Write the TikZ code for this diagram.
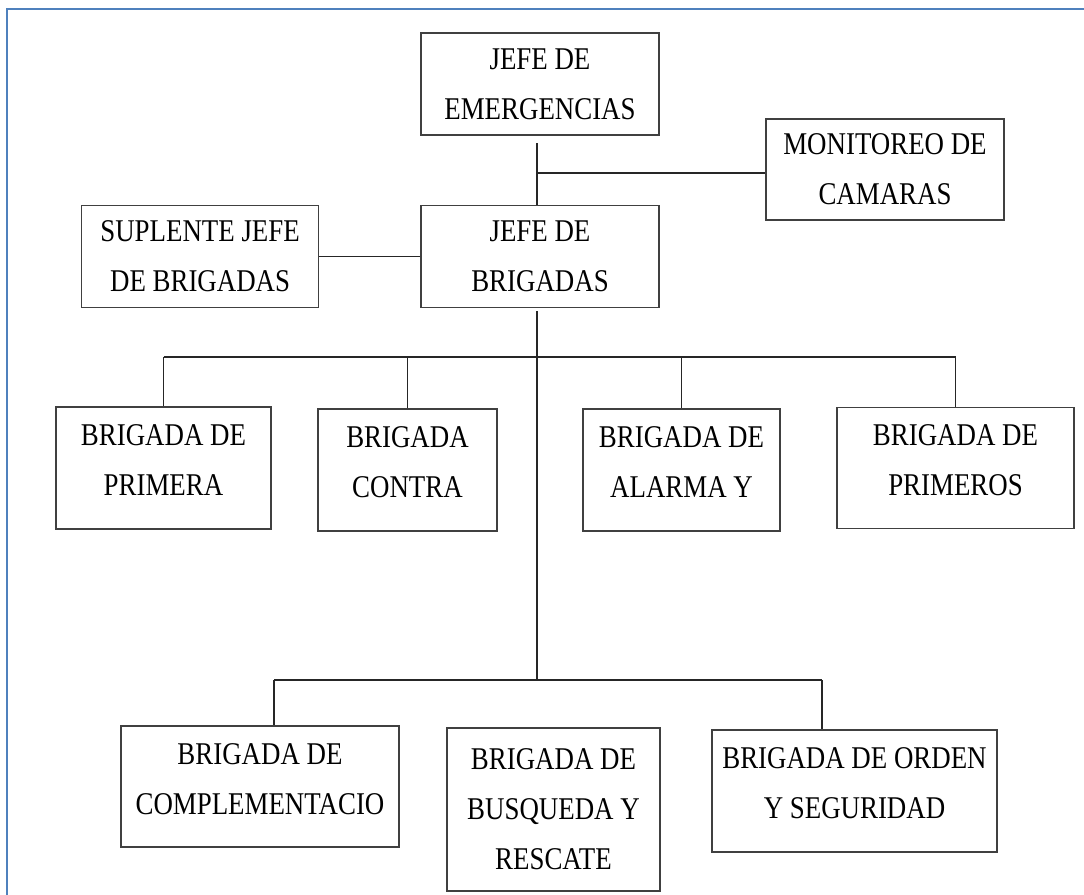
\documentclass[tikz,border=0pt]{standalone}
\usepackage{fontspec}
\setmainfont{Liberation Serif}[FakeStretch=0.85]
\usetikzlibrary{positioning}
\definecolor{framebl}{RGB}{79,129,189}
\tikzset{
  orgbox/.style={
    rectangle, draw=black!75, line width=0.8pt,
    inner sep=0pt, align=center, text=black,
    font=\fontsize{18}{28.5}\selectfont
  },
  lift/.style={text depth=9pt},
  orgline/.style={draw=black!85, line width=0.7pt},
}

\begin{document}
\begin{tikzpicture}
  \useasboundingbox (0,0) rectangle (21.68,-17.90);
  \draw[framebl,line width=1.2pt] (0.14,-17.90) |- (21.68,-0.18);
  % jefes
  \node[orgbox,minimum width=4.76cm,minimum height=2.04cm](je) at (10.80,-1.68){JEFE DE\\EMERGENCIAS};
  \node[orgbox,minimum width=4.76cm,minimum height=2.04cm,
        below=1.38cm of je](jb){JEFE DE\\BRIGADAS};
  \node[orgbox,minimum width=4.74cm,minimum height=2.04cm,
        left=2.02cm of jb](sup){SUPLENTE JEFE\\DE BRIGADAS};
  \node[orgbox,minimum width=4.76cm,minimum height=2.02cm](mon) at (17.70,-3.39){MONITOREO DE\\CAMARAS};
  % brigadas
  \node[orgbox,lift,minimum width=4.30cm,minimum height=2.44cm](b1) at (3.27,-9.36){BRIGADA DE\\PRIMERA};
  \node[orgbox,lift,minimum width=3.58cm,minimum height=2.44cm](b2) at (8.15,-9.40){BRIGADA\\CONTRA};
  \node[orgbox,lift,minimum width=3.94cm,minimum height=2.44cm](b3) at (13.63,-9.40){BRIGADA DE\\ALARMA Y};
  \node[orgbox,lift,minimum width=4.74cm,minimum height=2.42cm](b4) at (19.11,-9.36){BRIGADA DE\\PRIMEROS};
  \node[orgbox,lift,minimum width=5.56cm,minimum height=2.42cm](c1) at (5.20,-15.73){BRIGADA DE\\COMPLEMENTACIO};
  \node[orgbox,minimum width=4.26cm,minimum height=3.26cm](c2) at (11.07,-16.19){BRIGADA DE\\BUSQUEDA Y\\RESCATE};
  \node[orgbox,lift,minimum width=5.70cm,minimum height=2.44cm](c3) at (17.09,-15.82){BRIGADA DE ORDEN\\Y SEGURIDAD};
  % lineas
  \coordinate (tA) at (10.74,-2.86);
  \coordinate (tB) at (10.74,-3.46);
  \coordinate (tC) at (10.74,-6.22);
  \coordinate (bus1) at (10.74,-7.14);
  \coordinate (cL) at (5.48,-13.60);
  \coordinate (cR) at (16.44,-13.60);
  \draw[orgline](tA)--(tA |- jb.north);
  \draw[orgline](tB)--(tB -| mon.west);
  \draw[orgline](sup.east)--(jb.west);
  \draw[orgline](tC)--(tC |- cL);
  \draw[orgline](b1.north |- bus1)--(b4.north |- bus1);
  \foreach \n in {b1,b2,b3,b4}
    \draw[orgline](\n.north |- bus1)--(\n.north);
  \draw[orgline](cL)--(cR);
  \draw[orgline](cL)--(cL |- c1.north);
  \draw[orgline](cR)--(cR |- c3.north);
\end{tikzpicture}
\end{document}
